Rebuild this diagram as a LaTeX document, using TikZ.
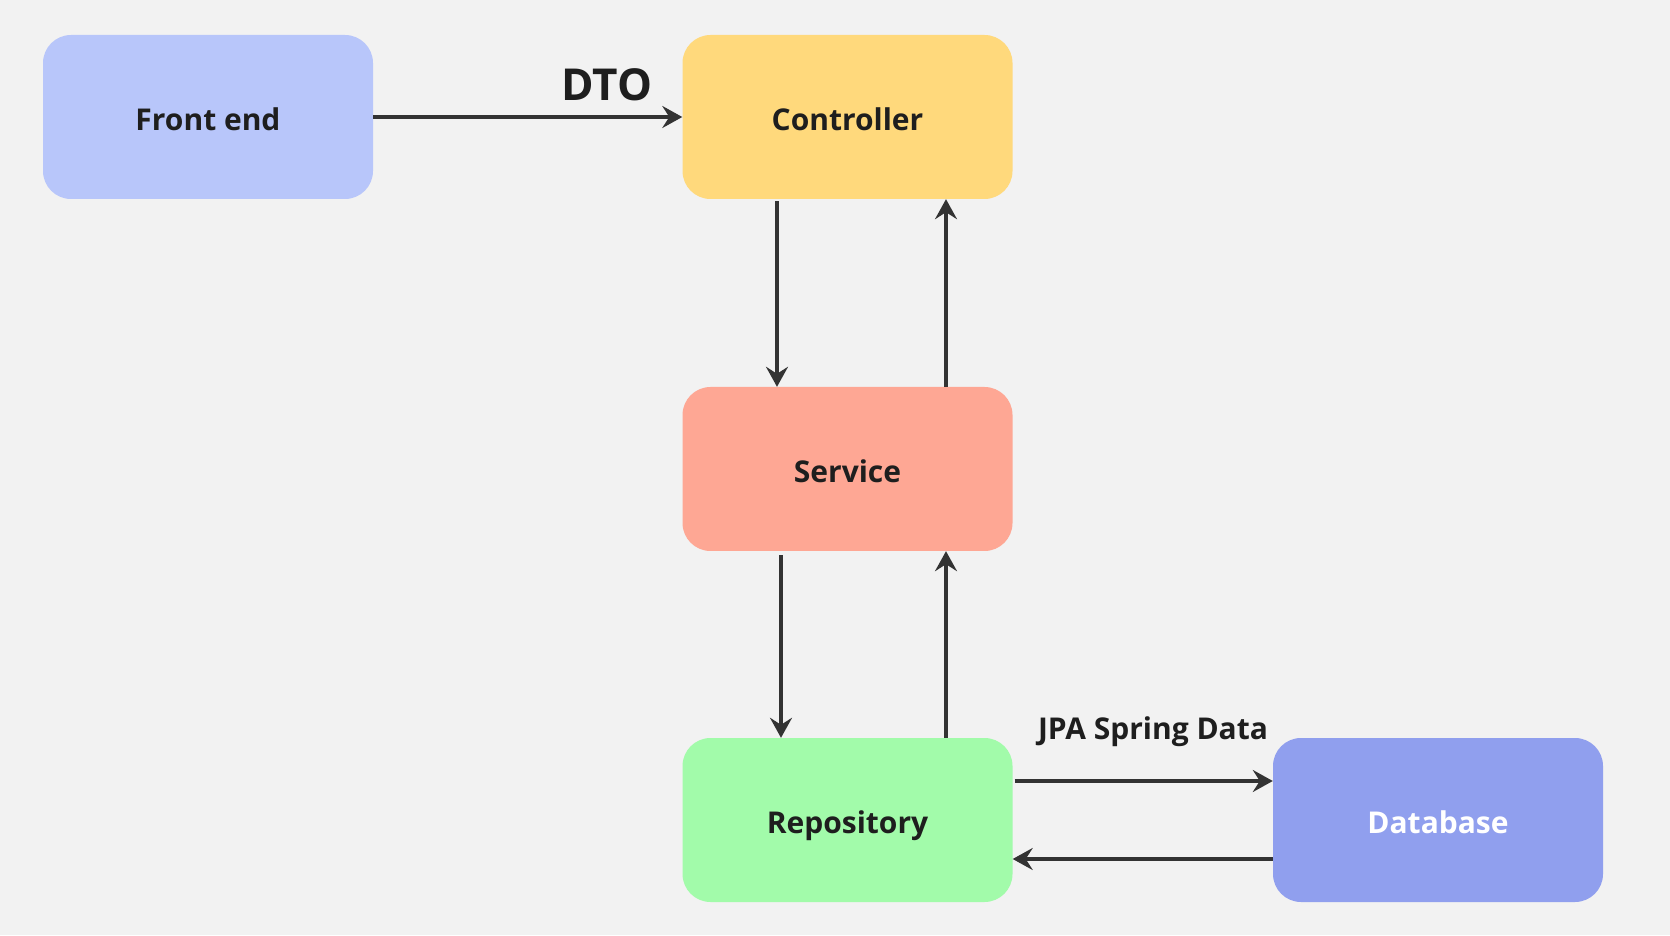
\documentclass[tikz,border=0pt]{standalone}
\usepackage{fontspec}
\setmainfont{Open Sans}
\usetikzlibrary{arrows.meta,calc}
\definecolor{bg}{HTML}{F2F2F2}
\definecolor{cfe}{HTML}{B8C6FA}
\definecolor{cctl}{HTML}{FFD97C}
\definecolor{csvc}{HTML}{FEA794}
\definecolor{crepo}{HTML}{A2FBAA}
\definecolor{cdb}{HTML}{909FEE}
\definecolor{ink}{HTML}{1E1E1E}
\definecolor{wire}{HTML}{333333}
\tikzset{
  box/.style={rectangle, rounded corners=28pt, minimum width=330pt, minimum height=164pt,
    inner sep=0pt, text height=27pt, text depth=0pt, font=\fontsize{30}{36}\selectfont\bfseries, text=ink},
  arr/.style={draw=wire, line width=3.6pt, -{Stealth[length=20pt,width=22pt,inset=7pt]}},
  lbl/.style={font=\fontsize{30}{36}\selectfont\bfseries, text=ink, inner sep=0pt}
}
\begin{document}
\begin{tikzpicture}[x=1pt,y=1pt]
\fill[bg] (0,0) rectangle (1670,935);
\useasboundingbox (0,0) rectangle (1670,935);
\node[box, fill=cfe] (fe) at (208,818) {Front end};
\node[box, fill=cctl] (ctl) at (847.5,818) {Controller};
\node[box, fill=csvc] (svc) at (847.5,466) {Service};
\node[box, fill=crepo] (repo) at (847.5,115) {Repository};
\node[box, fill=cdb, text=white] (db) at (1438,115) {Database};
\draw[arr] (fe.east) -- (ctl.west);
\node[lbl, font=\fontsize{44}{52}\selectfont\bfseries] (dto) at (607,850) {DTO};
\draw[arr] ($(ctl.south)+(-70.5,-2)$) -- ($(svc.north)+(-70.5,0)$);
\draw[arr] ($(svc.north)+(98.5,0)$) -- ($(ctl.south)+(98.5,0)$);
\draw[arr] ($(svc.south)+(-66.5,-4)$) -- ($(repo.north)+(-66.5,0)$);
\draw[arr] ($(repo.north)+(98.5,0)$) -- ($(svc.south)+(98.5,0)$);
\draw[arr] ($(repo.east)+(2,39)$) -- ($(db.west)+(0,39)$);
\draw[arr] ($(db.west)+(0,-39)$) -- ($(repo.east)+(0,-39)$);
\node[lbl] (jpa) at (1153,203) {JPA Spring Data};
\end{tikzpicture}
\end{document}
